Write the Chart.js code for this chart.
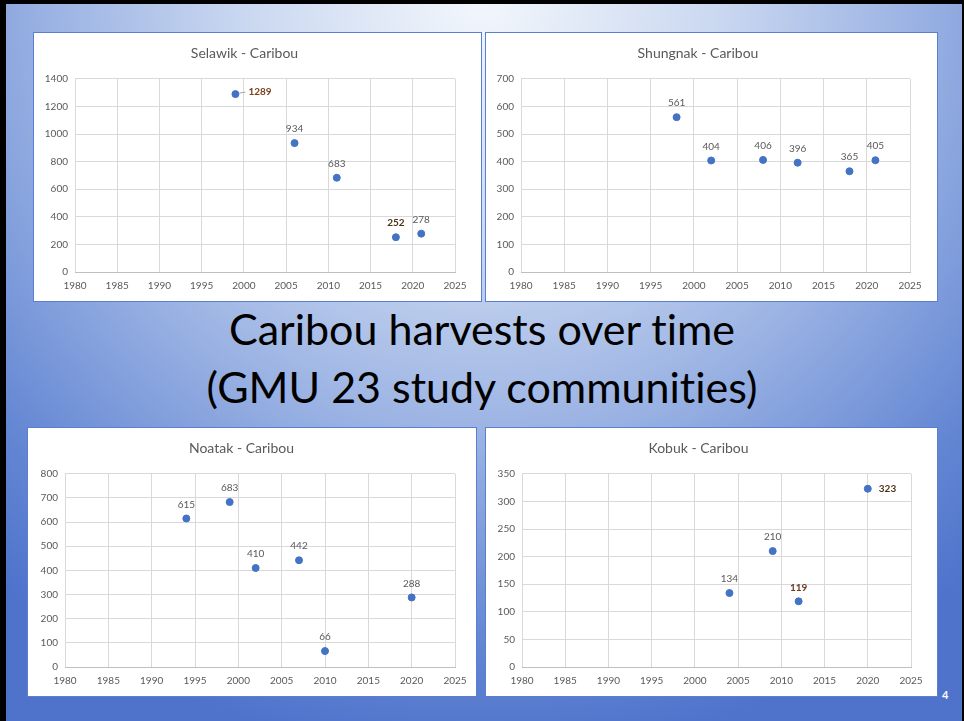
<!DOCTYPE html>
<html>
<head>
<meta charset="utf-8">
<script src="https://cdn.jsdelivr.net/npm/chart.js@4"></script>
<style>
html, body { margin: 0; padding: 0; }
body {
	width: 964px; height: 721px; position: relative; overflow: hidden;
	background: radial-gradient(ellipse 78% 105% at 50% 0%, #f3f7fc 0%, #c9d7f0 32%, #9ab2e3 58%, #6386d3 85%, #4f73cb 100%);
	font-family: Lato, "Open Sans", sans-serif;
}
.frame { position: absolute; background: #000; }
.panel { position: absolute; background: #fff; border: 1px solid #5a7fd0; box-sizing: border-box; }
.panel canvas { position: absolute; left: 0; top: 0; }
.bigtitle { position: absolute; left: 0; width: 964px; text-align: center; color: #000; font-size: 43px; font-weight: normal; line-height: 1; font-variant-ligatures: none; }
.pagenum { position: absolute; left: 942px; top: 688px; color: #fff; font-size: 11px; font-weight: bold; }
</style>
</head>
<body>
<div class="frame" style="left:0;top:0;width:964px;height:4px"></div>
<div class="frame" style="left:0;top:0;width:6px;height:721px"></div>
<div class="frame" style="left:962px;top:0;width:2px;height:721px"></div>

<div class="panel" id="p1" style="left:33px;top:32px;width:449px;height:270px"><canvas id="c1"></canvas></div>
<div class="panel" id="p2" style="left:485px;top:32px;width:453px;height:270px"><canvas id="c2"></canvas></div>
<div class="panel" id="p3" style="left:27px;top:427px;width:450px;height:270px"><canvas id="c3"></canvas></div>
<div class="panel" id="p4" style="left:485px;top:427px;width:453px;height:270px"><canvas id="c4"></canvas></div>

<div class="bigtitle" style="top:307px">Caribou harvests over time</div>
<div class="bigtitle" style="top:365px">(GMU 23 study communities)</div>
<div class="pagenum">4</div>

<script>
// data
var selawikYears = [1999, 2006, 2011, 2018, 2021];
var selawikValues = [1289, 934, 683, 252, 278];

var shungnakYears = [1998, 2002, 2008, 2012, 2018, 2021];
var shungnakValues = [561, 404, 406, 396, 365, 405];

var noatakYears = [1994, 1999, 2002, 2007, 2010, 2020];
var noatakValues = [615, 683, 410, 442, 66, 288];

var kobukYears = [2004, 2009, 2012, 2020];
var kobukValues = [134, 210, 119, 323];

var yearTicks = [1980, 1985, 1990, 1995, 2000, 2005, 2010, 2015, 2020, 2025];

var fontFam = 'Lato, "Open Sans", sans-serif';
var gridGrey = '#d9d9d9';
var textGrey = '#595959';
var dotBlue = '#4472c4';

// draws the value next to each point, a few of them are bold like in the slide
var pointLabels = {
	id: 'pointLabels',
	afterDatasetsDraw: function(chart, args, opts) {
		var ctx = chart.ctx;
		var meta = chart.getDatasetMeta(0);
		var data = chart.data.datasets[0].data;
		var special = opts.special || {};
		ctx.save();
		for (var i = 0; i < meta.data.length; i++) {
			var pt = meta.data[i];
			var txt = String(data[i].y);
			var s = special[i];
			if (s) {
				ctx.font = 'bold 10px ' + fontFam;
				ctx.fillStyle = s.color;
			} else {
				ctx.font = '10px ' + fontFam;
				ctx.fillStyle = textGrey;
			}
			ctx.textBaseline = 'middle';
			if (s && s.pos == 'right') {
				if (s.leader) {
					ctx.strokeStyle = '#a6a6a6';
					ctx.lineWidth = 1;
					ctx.beginPath();
					ctx.moveTo(pt.x + 4, pt.y - 1);
					ctx.lineTo(pt.x + 10, pt.y - 2);
					ctx.stroke();
				}
				ctx.textAlign = 'left';
				ctx.fillText(txt, pt.x + (s.leader ? 13 : 11), pt.y - (s.leader ? 2 : 0));
			} else {
				ctx.textAlign = 'center';
				ctx.fillText(txt, pt.x, pt.y - 14);
			}
		}
		ctx.restore();
	}
};

function plainNum(v) { return String(v); }

function drawThisChart(canvasId, panelId, title, years, values, yMax, yStep, yWidth, rightPad, special) {
	var panel = document.getElementById(panelId);
	var canvas = document.getElementById(canvasId);
	var w = panel.clientWidth, h = panel.clientHeight;
	canvas.width = w; canvas.height = h;
	canvas.style.width = w + 'px'; canvas.style.height = h + 'px';

	var points = [];
	for (var i = 0; i < years.length; i++) {
		points.push({x: years[i], y: values[i]});
	}

	new Chart(canvas.getContext('2d'), {
		type: 'scatter',
		data: {
			datasets: [{
				data: points,
				backgroundColor: dotBlue,
				borderColor: dotBlue,
				pointRadius: 3.5,
				pointHoverRadius: 3.5
			}]
		},
		plugins: [pointLabels],
		options: {
			responsive: false,
			animation: false,
			devicePixelRatio: 1,
			layout: { padding: { left: 0, right: rightPad, top: 0, bottom: 0 } },
			plugins: {
				legend: { display: false },
				tooltip: { enabled: false },
				title: {
					display: true,
					text: title,
					color: textGrey,
					font: { family: fontFam, size: 14, weight: 'normal' },
					padding: { top: 12, bottom: 17 }
				},
				pointLabels: { special: special }
			},
			scales: {
				x: {
					type: 'linear',
					min: 1980,
					max: 2025,
					afterBuildTicks: function(scale) {
						scale.ticks = yearTicks.map(function(v) { return {value: v}; });
					},
					afterFit: function(scale) { scale.height = 29; },
					grid: { color: gridGrey, drawTicks: false },
					border: { color: '#bfbfbf' },
					ticks: { color: textGrey, font: { family: fontFam, size: 10 }, padding: 8, maxRotation: 0, callback: plainNum }
				},
				y: {
					min: 0,
					max: yMax,
					afterFit: function(scale) { scale.width = yWidth; },
					grid: { color: gridGrey, drawTicks: false },
					border: { display: false },
					ticks: { stepSize: yStep, color: textGrey, font: { family: fontFam, size: 10 }, padding: 7, callback: plainNum }
				}
			}
		}
	});
}

drawThisChart('c1', 'p1', 'Selawik - Caribou', selawikYears, selawikValues, 1400, 200, 41, 26,
	{0: {pos: 'right', leader: true, color: '#7b3f1c'}, 3: {pos: 'top', color: '#4d3418'}});
drawThisChart('c2', 'p2', 'Shungnak - Caribou', shungnakYears, shungnakValues, 700, 100, 35, 27, {});
drawThisChart('c3', 'p3', 'Noatak - Caribou', noatakYears, noatakValues, 800, 100, 37, 21, {});
drawThisChart('c4', 'p4', 'Kobuk - Caribou', kobukYears, kobukValues, 350, 50, 36, 26,
	{2: {pos: 'top', color: '#6b3a1a'}, 3: {pos: 'right', color: '#4d3418'}});
</script>
</body>
</html>
